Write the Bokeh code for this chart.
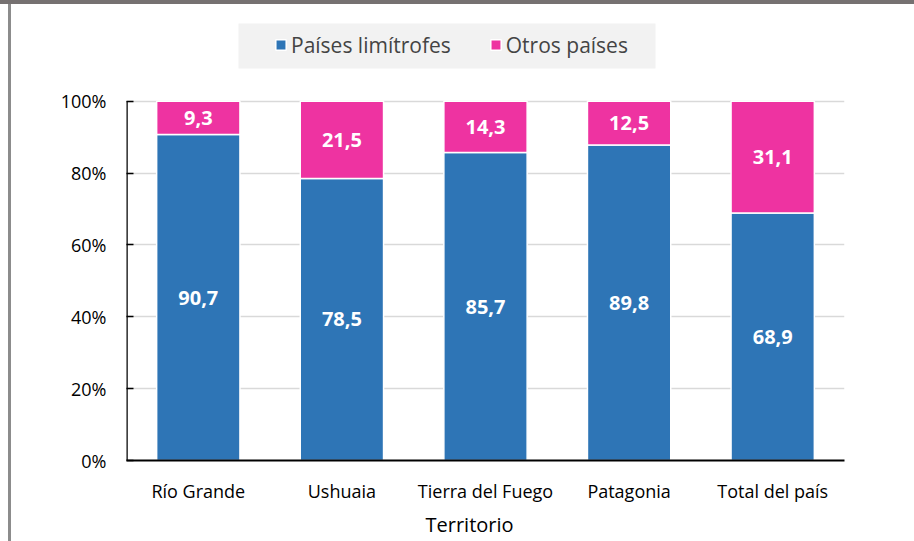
from bokeh.plotting import figure
from bokeh.models import (FactorRange, Range1d, Legend, LegendItem, ColumnDataSource,
                          BoxAnnotation, FixedTicker, CustomJSTickFormatter, Title)
from bokeh.core.properties import value
from bokeh.embed import file_html
from bokeh.resources import INLINE

categories = ["Río Grande", "Ushuaia", "Tierra del Fuego", "Patagonia", "Total del país"]
limitrofes = [90.7, 78.5, 85.7, 89.8, 68.9]
otros = [9.3, 21.5, 14.3, 12.5, 31.1]
series_names = ["Países limítrofes", "Otros países"]
colors = ["#2E75B6", "#EE33A1"]
y_ticks = [0, 20, 40, 60, 80, 100]
x_title = "Territorio"

FONT = "Open Sans"

def fmt(v):
    return f"{v:.1f}".replace(".", ",")

# 100% stacked: each bar normalised to its own total
totals = [a + b for a, b in zip(limitrofes, otros)]
lim_pct = [a / t * 100 for a, t in zip(limitrofes, totals)]
otr_pct = [b / t * 100 for b, t in zip(otros, totals)]

src = ColumnDataSource(dict(
    cat=categories,
    lim=lim_pct,
    otr_top=[a + b for a, b in zip(lim_pct, otr_pct)],
    lim_mid=[v / 2 for v in lim_pct],
    otr_mid=[a + b / 2 for a, b in zip(lim_pct, otr_pct)],
    zero=[0] * len(categories),
    lim_lbl=[fmt(v) for v in limitrofes],
    otr_lbl=[fmt(v) for v in otros],
))

# frame: x 126..844, y 23..462 ; 100% sits at y=101
p = figure(x_range=FactorRange(*categories, range_padding=0), y_range=Range1d(0, 121.6),
           width=914, height=541, output_backend="svg", toolbar_location=None,
           min_border_left=126, min_border_right=70, min_border_top=23, min_border_bottom=79)
p.styles = {"background": "linear-gradient(to bottom, #767171 4px, rgba(0,0,0,0) 4px), "
                          "linear-gradient(to right, #ffffff 8px, #8c8c8c 8px, #8c8c8c 11px, #ffffff 11px)"}
p.border_fill_color = None
p.outline_line_color = None
p.background_fill_color = "white"

r1 = p.vbar(x="cat", bottom="zero", top="lim", width=0.58, source=src,
            fill_color=colors[0], line_color="white", line_width=1.5)
r2 = p.vbar(x="cat", bottom="lim", top="otr_top", width=0.58, source=src,
            fill_color=colors[1], line_color="white", line_width=1.5)

p.text(x="cat", y="lim_mid", text="lim_lbl", source=src, text_color="white",
       text_font=value(FONT), text_font_style="bold", text_font_size="20px",
       text_align="center", text_baseline="middle")
p.text(x="cat", y="otr_mid", text="otr_lbl", source=src, text_color="white",
       text_font=value(FONT), text_font_style="bold", text_font_size="20px",
       text_align="center", text_baseline="middle")

# y axis line only from 0 to 100
p.segment(x0=[0], y0=[0], x1=[0], y1=[y_ticks[-1]], line_color="black", line_width=2.5)

p.yaxis.ticker = FixedTicker(ticks=y_ticks)
p.yaxis.formatter = CustomJSTickFormatter(code="return tick.toFixed(0) + '%';")
p.yaxis.major_tick_in = 7
p.yaxis.major_tick_out = 0
p.yaxis.minor_tick_line_color = None
p.yaxis.axis_line_color = None
p.yaxis.major_tick_line_color = "black"
p.yaxis.major_tick_line_width = 1.5
p.yaxis.major_label_text_font = FONT
p.yaxis.major_label_text_font_size = "18px"
p.yaxis.major_label_text_color = "black"
p.yaxis.major_label_standoff = 20

p.xaxis.major_tick_line_color = None
p.xaxis.minor_tick_line_color = None
p.xaxis.axis_line_color = "black"
p.xaxis.axis_line_width = 2
p.xaxis.major_label_text_font = FONT
p.xaxis.major_label_text_font_size = "18px"
p.xaxis.major_label_text_color = "black"
p.xaxis.major_label_standoff = 12

title = Title(text=x_title, align="left", offset=299, text_font=FONT,
              text_font_size="20px", text_font_style="normal", text_color="black",
              standoff=7)
p.add_layout(title, "below")

p.xgrid.grid_line_color = None
p.ygrid.ticker = FixedTicker(ticks=y_ticks[1:])
p.ygrid.grid_line_color = "#D9D9D9"
p.ygrid.grid_line_width = 1.5

box = BoxAnnotation(left=112, right=529, bottom=392, top=439,
                    left_units="screen", right_units="screen",
                    top_units="screen", bottom_units="screen",
                    fill_color="#F2F2F2", fill_alpha=1, line_color=None, level="overlay")
p.add_layout(box)

legend = Legend(items=[LegendItem(label=series_names[0], renderers=[r1]),
                       LegendItem(label=series_names[1], renderers=[r2])],
                orientation="horizontal", location=(148, 401), padding=0, margin=0,
                glyph_width=13, glyph_height=13, label_standoff=4, spacing=38,
                label_height=29,
                label_text_font=FONT, label_text_font_size="21px",
                background_fill_alpha=0, border_line_color=None)
p.add_layout(legend, "center")

open("out.html", "w").write(file_html(p, INLINE))
